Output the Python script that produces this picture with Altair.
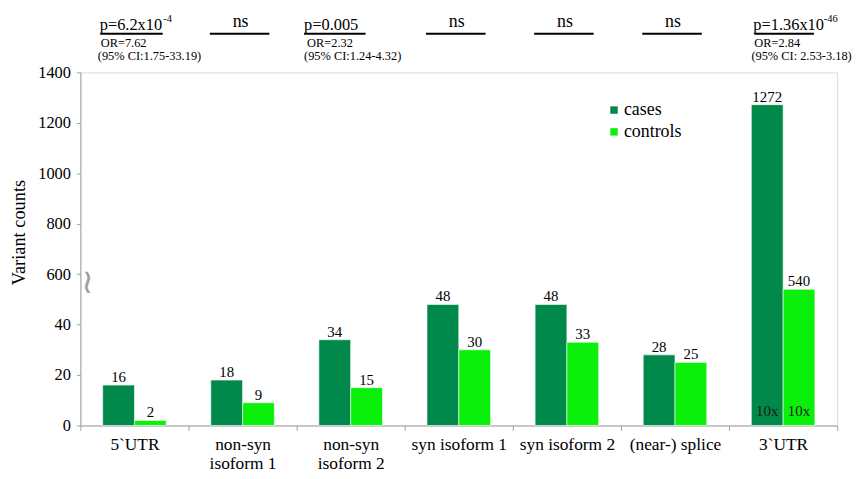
import altair as alt
import pandas as pd

FONT = "Liberation Serif, Times New Roman, serif"

categories = ["5`UTR", "non-syn isoform 1", "non-syn isoform 2", "syn isoform 1",
              "syn isoform 2", "(near-) splice", "3`UTR"]
cases = [16, 18, 34, 48, 48, 28, 1272]
controls = [2, 9, 15, 30, 33, 25, 540]
# broken axis: values above the break are drawn at 1/10 scale
divisor = [1, 1, 1, 1, 1, 1, 10]
groups = ["cases", "controls"]
colors = ["#00894B", "#0BF00B"]

y_tick_values = [0, 20, 40, 60, 80, 100, 120, 140]
break_at = [56]

# significance annotations
p_categories = ["5`UTR", "non-syn isoform 2", "3`UTR"]
p_main = ["p=6.2x10", "p=0.005", "p=1.36x10"]
p_sup = ["-4", "", "-46"]
or_texts = ["OR=7.62", "OR=2.32", "OR=2.84"]
ci_texts = ["(95% CI:1.75-33.19)", "(95% CI:1.24-4.32)", "(95% CI: 2.53-3.18)"]
ns_categories = ["non-syn isoform 1", "syn isoform 1", "syn isoform 2", "(near-) splice"]

rows = []
for c, a, b, d in zip(categories, cases, controls, divisor):
    rows.append(dict(category=c, group="cases", count=a, shown=a / d, scaled=d > 1))
    rows.append(dict(category=c, group="controls", count=b, shown=b / d, scaled=d > 1))
df = pd.DataFrame(rows)

x = alt.X("category:N", sort=categories,
          scale=alt.Scale(domain=categories, paddingInner=0, paddingOuter=0),
          axis=alt.Axis(title=None, labelAngle=0, tickBand="extent",
                        labelExpr="indexof(datum.label, 'non-syn') == 0 ? ['non-syn', substring(datum.label, 8)] : datum.label",
                        labelFont=FONT, labelFontSize=17.5, labelColor="black",
                        labelPadding=5, labelLineHeight=19,
                        domainColor="#a0a0a0", tickColor="#a0a0a0", tickSize=5))
xo = alt.XOffset("group:N", sort=groups,
                 scale=alt.Scale(domain=groups, paddingInner=0, paddingOuter=0.70))
yscale = alt.Scale(domain=[0, 140], nice=False, zero=True)
y = alt.Y("shown:Q", scale=yscale,
          axis=alt.Axis(values=y_tick_values, grid=False,
                        labelExpr="datum.value >= 60 ? format(datum.value * 10, 'd') : format(datum.value, 'd')",
                        title="Variant counts", titleFont=FONT, titleFontSize=18.5,
                        titleFontWeight="normal", titleColor="black", titlePadding=9,
                        titleY=161,
                        labelFont=FONT, labelFontSize=16.5, labelColor="black",
                        labelPadding=6,
                        domainColor="#a0a0a0", tickColor="#a0a0a0", tickSize=4))

color = alt.Color("group:N", scale=alt.Scale(domain=groups, range=colors),
                  legend=alt.Legend(orient="none", legendX=529, legendY=29, title=None,
                                    symbolType="square", symbolSize=56,
                                    symbolStrokeWidth=0, labelFont=FONT,
                                    labelFontSize=18, labelColor="black",
                                    rowPadding=4, labelOffset=1))

base = alt.Chart(df)
bars = base.mark_bar(stroke="white", strokeWidth=0.6).encode(x=x, xOffset=xo, y=y, color=color)
values = base.mark_text(dy=-3, baseline="alphabetic", font=FONT, fontSize=15,
                        color="black").encode(x=x, xOffset=xo, y=y, text="count:Q")
tenx = alt.Chart(df[df["scaled"]]).mark_text(dy=-10, baseline="alphabetic", font=FONT,
                                             fontSize=15, color="#1a1a1a").encode(
    x=x, xOffset=xo, y=alt.Y(datum=0, scale=yscale), text=alt.value("10x"))

brk = alt.Chart(pd.DataFrame({"v": break_at})).mark_text(
    text="~", angle=90, fontSize=34, color="#a0a0a0", font="DejaVu Sans", dx=-2).encode(
    x=alt.value(7), y=alt.Y(datum=break_at[0], scale=yscale))

layers = [bars, values, tenx, brk]

# p-value annotations (per-annotation horizontal nudges are style only)
main_dx = [-35, -47, -30]
sup_dx = [29, 0, 41]
line_shift = [-3, -16, 1]
line_len = [63, 62, 60]
info_dx = [-37, -47, -32]
for i, cat in enumerate(p_categories):
    d = pd.DataFrame({"category": [cat], "main": [p_main[i]], "sup": [p_sup[i]],
                      "or": [or_texts[i]], "ci": [ci_texts[i]]})
    c = alt.Chart(d)
    layers.append(c.mark_text(align="left", baseline="alphabetic", font=FONT, fontSize=16.5,
                              color="black", dx=main_dx[i]).encode(
        x=x, y=alt.value(-43), text="main:N"))
    if p_sup[i]:
        layers.append(c.mark_text(align="left", baseline="alphabetic", font=FONT, fontSize=10.5,
                                  color="black", dx=sup_dx[i]).encode(
            x=x, y=alt.value(-51), text="sup:N"))
    layers.append(c.mark_tick(orient="horizontal", size=line_len[i], thickness=2,
                              color="black", opacity=1, xOffset=line_shift[i]).encode(
        x=x, y=alt.value(-39)))
    layers.append(c.mark_text(align="left", baseline="alphabetic", font=FONT, fontSize=12.5,
                              color="black", dx=info_dx[i] + 3).encode(
        x=x, y=alt.value(-26), text="or:N"))
    layers.append(c.mark_text(align="left", baseline="alphabetic", font=FONT, fontSize=12.5,
                              color="black", dx=info_dx[i]).encode(
        x=x, y=alt.value(-12), text="ci:N"))

ns_df = pd.DataFrame({"category": ns_categories, "label": ["ns"] * len(ns_categories)})
ns = alt.Chart(ns_df)
layers.append(ns.mark_text(baseline="alphabetic", font=FONT, fontSize=18, color="black",
                           dx=-2).encode(x=x, y=alt.value(-46), text="label:N"))
layers.append(ns.mark_tick(orient="horizontal", size=60, thickness=2, color="black",
                           opacity=1, xOffset=-3).encode(x=x, y=alt.value(-39)))

chart = alt.layer(*layers).properties(
    width=763, height=356,
    autosize=alt.AutoSizeParams(type="none"),
    padding={"left": 73, "top": 63, "right": 21, "bottom": 45},
).configure_view(stroke=None).configure(font=FONT).configure_axis(
    labelFont=FONT, titleFont=FONT
).configure_legend(labelFont=FONT).configure_text(font=FONT)

chart.save("out.html", embed_options={"renderer": "svg", "actions": False})
